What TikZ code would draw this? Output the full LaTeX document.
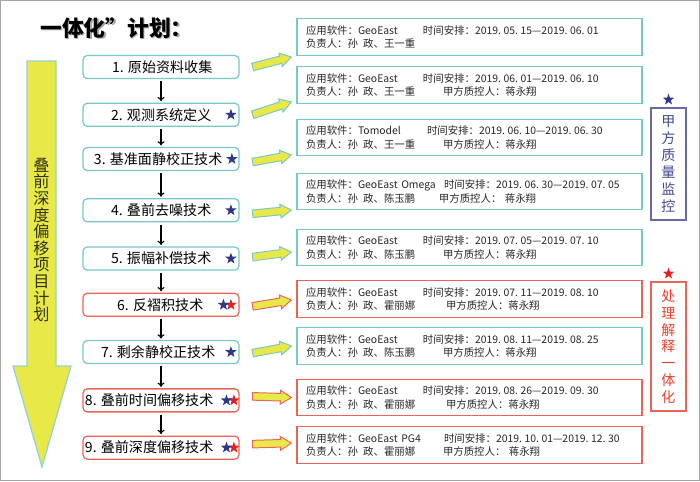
\documentclass[tikz,border=0pt]{standalone}
\usepackage{fontspec}
\setmainfont{Noto Sans CJK SC}
\usetikzlibrary{arrows.meta, positioning, calc, shapes.geometric}

\definecolor{tealline}{RGB}{120,200,200}
\definecolor{redline}{RGB}{236,100,88}
\definecolor{arryellow}{RGB}{232,232,72}
\definecolor{starblue}{RGB}{45,55,140}
\definecolor{starred}{RGB}{226,32,32}
\definecolor{qcline}{RGB}{105,105,170}
\definecolor{qctext}{RGB}{70,70,150}
\definecolor{proctext}{RGB}{235,62,42}
\definecolor{olivetext}{RGB}{50,50,20}

% block arrow from #1 to #2, outline colour #3
\newcommand{\blockarr}[3]{%
  \filldraw[blockarrow, draw=#3] let \p1=($(#2)-(#1)$), \n1={atan2(\y1,\x1)}, \n2={veclen(\x1,\y1)} in
    [shift={(#1)}, rotate=\n1]
    (0pt,-2.7pt) -- ({\n2*1pt-7.8pt},-2.7pt) -- ({\n2*1pt-7.8pt},-4.9pt) -- ({\n2*1pt},0pt)
    -- ({\n2*1pt-7.8pt},4.9pt) -- ({\n2*1pt-7.8pt},2.7pt) -- (0pt,2.7pt) -- cycle;}

\begin{document}
\begin{tikzpicture}[
    x=0.25mm, y=-0.25mm,
    arr/.style={-{To[length=3pt, width=5pt]}, line width=0.8pt, shorten <=1.5pt, shorten >=1pt},
    blockarrow/.style={fill=arryellow, line width=0.7pt, line join=miter},
    task/.style={rectangle, draw=tealline, line width=0.9pt, rounded corners=3pt, minimum width=3.9cm, minimum height=0.575cm, inner sep=0pt},
    taskred/.style={task, draw=redline},
    tasktext/.style={inner sep=0pt, font=\fontsize{10}{12}\selectfont},
    info/.style={rectangle, draw=tealline, line width=0.9pt, minimum width=8.625cm, minimum height=0.9125cm, text width=8.175cm, inner xsep=0.225cm, inner ysep=0pt, align=left, font=\fontsize{7.4}{9.4}\selectfont, text=black!85},
    infored/.style={info, draw=redline},
    bstar/.style={star, star points=5, star point ratio=2.5, fill=starblue, draw=none, minimum size=0.3cm, inner sep=0pt},
    rstar/.style={bstar, fill=starred},
    vlabel/.style={rectangle, line width=0.9pt, minimum width=0.875cm, inner sep=0pt, align=center},
]
\useasboundingbox (0,0) rectangle (700,481);
\draw[gray!70, line width=0.8pt] (0.5,0.5) rectangle (699.5,480.5);

% ============ Title ============
\node[font=\fontsize{15.5}{18}\selectfont\bfseries, text=black!35] (titleshadow) at (118,29.5) {一体化”计划：};
\node[font=\fontsize{15.5}{18}\selectfont\bfseries] (title) at (116.5,28) {一体化”计划：};

% ============ Big arrow ============
\filldraw[fill=arryellow, draw=tealline!80, line width=0.9pt] (27,61) -- (56,61) -- (56,366) -- (71,366) -- (42,467) -- (13,366) -- (27,366) -- cycle;
\node[align=center, font=\fontsize{11.5}{11.8}\selectfont, text=olivetext] (plan) at (41.5,240) {叠\\前\\深\\度\\偏\\移\\项\\目\\计\\划};

% ============ Processing steps ============
\node[task] (L1) at (161,67) {};
\node[task, below=0.5875cm of L1] (L2) {};
\node[task, below=0.5cm of L2] (L3) {};
\node[task, below=0.675cm of L3] (L4) {};
\node[task, below=0.6cm of L4] (L5) {};
\node[taskred, below=0.55cm of L5] (L6) {};
\node[task, below=0.575cm of L6] (L7) {};
\node[taskred, below=0.6cm of L7] (L8) {};
\node[taskred, below=0.575cm of L8] (L9) {};

\node[tasktext, left=0.675cm of L1.east] (L1t) {1. 原始资料收集};
\node[tasktext, left=0.7cm of L2.east] (L2t) {2. 观测系统定义};
\node[tasktext, left=0.425cm of L3.east] (L3t) {3. 基准面静校正技术};
\node[tasktext, left=0.7cm of L4.east] (L4t) {4. 叠前去噪技术};
\node[tasktext, left=0.7cm of L5.east] (L5t) {5. 振幅补偿技术};
\node[tasktext, left=0.9cm of L6.east] (L6t) {6. 反褶积技术};
\node[tasktext, left=0.6cm of L7.east] (L7t) {7. 剩余静校正技术};
\node[tasktext, left=0.65cm of L8.east] (L8t) {8. 叠前时间偏移技术};
\node[tasktext, left=0.65cm of L9.east] (L9t) {9. 叠前深度偏移技术};

% stars
\node[bstar, left=0.125cm of L2.east] (s2) {};
\node[bstar, left=0.1cm of L3.east] (s3) {};
\node[bstar, left=0.125cm of L4.east] (s4) {};
\node[bstar, left=0.125cm of L5.east] (s5) {};
\node[rstar, left=0.125cm of L6.east] (s6r) {};
\node[bstar, left=0cm of s6r] (s6b) {};
\node[bstar, left=0.125cm of L7.east] (s7) {};
\node[rstar, left=0.05cm of L8.east] (s8r) {};
\node[bstar, left=0cm of s8r] (s8b) {};
\node[rstar, left=0.05cm of L9.east] (s9r) {};
\node[bstar, left=0cm of s9r] (s9b) {};

\draw[arr] (L1) -- (L2);
\draw[arr] (L2) -- (L3);
\draw[arr] (L3) -- (L4);
\draw[arr] (L4) -- (L5);
\draw[arr] (L5) -- (L6);
\draw[arr] (L6) -- (L7);
\draw[arr] (L7) -- (L8);
\draw[arr] (L8) -- (L9);

% ============ Schedules ============
\node[info] (R1) at (469.5,37) {\makebox[2.925cm][l]{应用软件：GeoEast}时间安排：2019.\kern0.25em05.\kern0.25em15—2019.\kern0.25em06.\kern0.25em01\\
  负责人：孙\enspace 政、王一重};
\node[info] (R2) at (469.5,85) {\makebox[2.925cm][l]{应用软件：GeoEast}时间安排：2019.\kern0.25em06.\kern0.25em01—2019.\kern0.25em06.\kern0.25em10\\
  \makebox[3.425cm][l]{负责人：孙\enspace 政、王一重}甲方质控人：蒋永翔};
\node[info] (R3) at (469.5,137.5) {\makebox[3.025cm][l]{应用软件：Tomodel}时间安排：2019.\kern0.25em06.\kern0.25em10—2019.\kern0.25em06.\kern0.25em30\\
  \makebox[3.425cm][l]{负责人：孙\enspace 政、王一重}甲方质控人：蒋永翔};
\node[info] (R4) at (469.5,191.5) {\makebox[3.45cm][l]{应用软件：GeoEast Omega}时间安排：2019.\kern0.25em06.\kern0.25em30—2019.\kern0.25em07.\kern0.25em05\\
  \makebox[3.325cm][l]{负责人：孙\enspace 政、陈玉鹏}甲方质控人：\ 蒋永翔};
\node[info] (R5) at (469.5,247.5) {\makebox[2.925cm][l]{应用软件：GeoEast}时间安排：2019.\kern0.25em07.\kern0.25em05—2019.\kern0.25em07.\kern0.25em10\\
  \makebox[3.425cm][l]{负责人：孙\enspace 政、陈玉鹏}甲方质控人：蒋永翔};
\node[infored] (R6) at (469.5,299) {\makebox[2.925cm][l]{应用软件：GeoEast}时间安排：2019.\kern0.25em07.\kern0.25em11—2019.\kern0.25em08.\kern0.25em10\\
  \makebox[3.5cm][l]{负责人：孙\enspace 政、霍丽娜}甲方质控人：蒋永翔};
\node[info] (R7) at (469.5,346) {\makebox[2.925cm][l]{应用软件：GeoEast}时间安排：2019.\kern0.25em08.\kern0.25em11—2019.\kern0.25em08.\kern0.25em25\\
  \makebox[3.425cm][l]{负责人：孙\enspace 政、陈玉鹏}甲方质控人：蒋永翔};
\node[infored] (R8) at (469.5,397.5) {\makebox[2.925cm][l]{应用软件：GeoEast}时间安排：2019.\kern0.25em08.\kern0.25em26—2019.\kern0.25em09.\kern0.25em30\\
  \makebox[3.5cm][l]{负责人：孙\enspace 政、霍丽娜}甲方质控人：蒋永翔};
\node[infored] (R9) at (469.5,445) {\makebox[3.45cm][l]{应用软件：GeoEast PG4}时间安排：2019.\kern0.25em10.\kern0.25em01—2019.\kern0.25em12.\kern0.25em30\\
  \makebox[3.425cm][l]{负责人：孙\enspace 政、霍丽娜}甲方质控人：\ 蒋永翔};

% ============ Step -> schedule arrows ============
\coordinate (a1s) at ($(L1.east)+(13,0)$);   \coordinate (a1e) at ($(R1.west)+(-5,20)$);
\coordinate (a2s) at ($(L2.east)+(13,0)$);   \coordinate (a2e) at ($(R2.west)+(-5,17)$);
\coordinate (a3s) at ($(L3.east)+(13,3)$);   \coordinate (a3e) at ($(R3.west)+(-5,17.5)$);
\coordinate (a4s) at ($(L4.east)+(13,3.5)$); \coordinate (a4e) at ($(R4.west)+(-5,18.5)$);
\coordinate (a5s) at ($(L5.east)+(13,-1.5)$);\coordinate (a5e) at ($(R5.west)+(-5,4.5)$);
\coordinate (a6s) at ($(L6.east)+(13,1.5)$); \coordinate (a6e) at ($(R6.west)+(-5,1)$);
\coordinate (a7s) at ($(L7.east)+(13,1)$);   \coordinate (a7e) at ($(R7.west)+(-5,0)$);
\coordinate (a8s) at ($(L8.east)+(13,-4)$);  \coordinate (a8e) at ($(R8.west)+(-5,0)$);
\coordinate (a9s) at ($(L9.east)+(13,-3.5)$);\coordinate (a9e) at ($(R9.west)+(-5,-2)$);
\blockarr{a1s}{a1e}{tealline}
\blockarr{a2s}{a2e}{tealline}
\blockarr{a3s}{a3e}{tealline}
\blockarr{a4s}{a4e}{tealline}
\blockarr{a5s}{a5e}{tealline}
\blockarr{a6s}{a6e}{redline}
\blockarr{a7s}{a7e}{tealline}
\blockarr{a8s}{a8e}{redline}
\blockarr{a9s}{a9e}{redline}

% ============ Side labels ============
\node[vlabel, draw=qcline, text=qctext, minimum height=2.8cm, font=\fontsize{10}{12.2}\selectfont] (qc) at (668.5,164) {甲\\方\\质\\量\\监\\控};
\node[bstar, above=0.125cm of qc] (qcstar) {};
\node[vlabel, draw=redline, text=proctext, minimum height=3.225cm, font=\fontsize{10}{11.9}\selectfont] (proc) at (668.5,346.5) {处\\理\\解\\释\\一\\体\\化};
\node[rstar, above=0.125cm of proc] (procstar) {};

\end{tikzpicture}
\end{document}
